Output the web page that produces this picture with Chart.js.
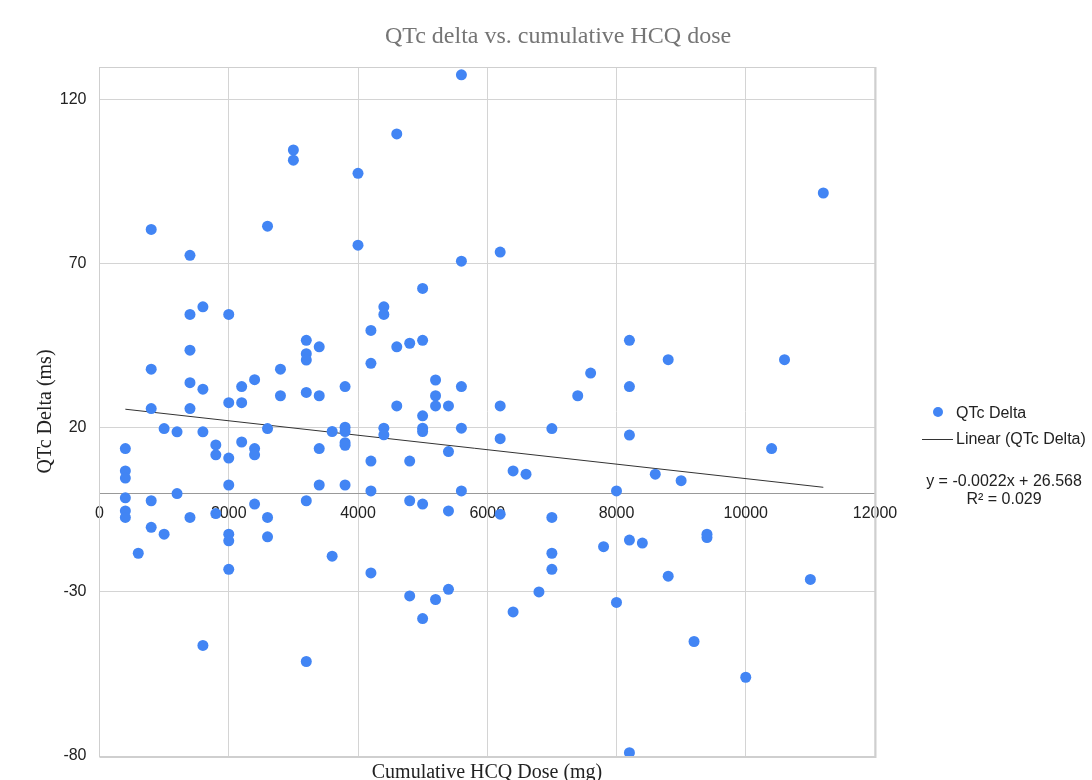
<!DOCTYPE html>
<html>
<head>
<meta charset="utf-8">
<script src="https://cdn.jsdelivr.net/npm/chart.js@4/dist/chart.umd.min.js"></script>
<style>
  body { margin: 0; background: #fff; }
  #wrap { position: relative; width: 1092px; height: 780px; overflow: hidden; }
  #myChart { position: absolute; left: 0; top: 0; }
  .txt { position: absolute; white-space: nowrap; line-height: 1; }
  .serif { font-family: "Liberation Serif", "Times New Roman", serif; }
  .sans { font-family: "Liberation Sans", Arial, sans-serif; font-size: 16px; color: #222; }
</style>
</head>
<body>
<div id="wrap">
  <canvas id="myChart" width="1092" height="780"></canvas>
  <div class="txt serif" id="title" style="font-size:24px;color:#757575;top:23px;left:558px;transform:translateX(-50%);">QTc delta vs. cumulative HCQ dose</div>
  <div class="txt serif" style="font-size:20px;color:#222;top:761px;left:487px;transform:translateX(-50%);">Cumulative HCQ Dose (mg)</div>
  <div style="position:absolute;left:933px;top:407px;width:10px;height:10px;border-radius:50%;background:#4285F4;"></div>
  <div class="txt sans" style="left:956px;top:405px;">QTc Delta</div>
  <div style="position:absolute;left:922px;top:439px;width:31px;height:1px;background:#333;"></div>
  <div class="txt sans" style="left:956px;top:431px;">Linear (QTc Delta)</div>
  <div class="txt sans" style="left:1004px;top:473px;transform:translateX(-50%);">y = -0.0022x + 26.568</div>
  <div class="txt sans" style="left:1004px;top:491px;transform:translateX(-50%);">R² = 0.029</div>
</div>
<script>
// cumulative dose (mg) and QTc delta (ms)
const doseMg = [
	400, 400, 400, 400, 400, 400,
	600,
	800, 800, 800, 800, 800,
	1000, 1000,
	1200, 1200,
	1400, 1400, 1400, 1400, 1400, 1400,
	1600, 1600, 1600, 1600,
	1800, 1800, 1800,
	2000, 2000, 2000, 2000, 2000, 2000, 2000,
	2200, 2200, 2200,
	2400, 2400, 2400, 2400,
	2600, 2600, 2600, 2600,
	2800, 2800,
	3000, 3000,
	3200, 3200, 3200, 3200, 3200, 3200,
	3400, 3400, 3400, 3400,
	3600, 3600,
	3800, 3800, 3800, 3800, 3800, 3800,
	4000, 4000,
	4200, 4200, 4200, 4200, 4200,
	4400, 4400, 4400, 4400,
	4600, 4600, 4600,
	4800, 4800, 4800, 4800,
	5000, 5000, 5000, 5000, 5000, 5000, 5000,
	5200, 5200, 5200, 5200,
	5400, 5400, 5400, 5400,
	5600, 5600, 5600, 5600, 5600,
	6200, 6200, 6200, 6200,
	6400, 6400,
	6600,
	6800,
	7000, 7000, 7000, 7000,
	7400,
	7600,
	7800,
	8000, 8000,
	8200, 8200, 8200, 8200, 8200,
	8400,
	8600,
	8800, 8800,
	9000,
	9200,
	9400, 9400,
	10000,
	10400,
	10600,
	11000,
	11200
];
const qtcDelta = [
	13.7, 6.9, 4.7, -1.3, -5.3, -7.3,
	-18.2,
	80.5, 37.9, 25.9, -2.2, -10.3,
	19.8, -12.4,
	18.8, 0,
	72.6, 54.6, 43.7, 33.8, 25.9, -7.3,
	56.9, 31.8, 18.8, -46.3,
	14.8, 11.8, -6.1,
	54.6, 27.7, 10.8, 2.6, -12.4, -14.4, -23.1,
	32.6, 27.7, 15.7,
	34.7, 13.7, 11.8, -3.2,
	81.5, 19.8, -7.3, -13.2,
	37.9, 29.8,
	104.7, 101.6,
	46.7, 42.6, 40.7, 30.8, -2.2, -51.2,
	44.7, 29.8, 13.7, 2.6,
	18.9, -19.1,
	32.6, 20.2, 18.9, 15.5, 14.7, 2.6,
	97.6, 75.7,
	49.7, 39.7, 9.9, 0.8, -24.2,
	56.9, 54.6, 19.9, 17.9,
	109.6, 44.7, 26.7,
	45.8, 9.9, -2.2, -31.2,
	62.5, 46.7, 23.7, 19.9, 18.9, -3.2, -38.1,
	34.6, 29.8, 26.7, -32.3,
	26.7, 12.8, -5.3, -29.2,
	127.6, 70.8, 32.6, 19.9, 0.8,
	73.6, 26.7, 16.7, -6.3,
	6.9, -36.1,
	5.9,
	-30.0,
	19.8, -7.3, -18.2, -23.1,
	29.8,
	36.7,
	-16.2,
	0.8, -33.2,
	46.7, 32.6, 17.8, -14.2, -79.0,
	-15.1,
	5.9,
	40.8, -25.2,
	3.9,
	-45.1,
	-12.4, -13.4,
	-56.0,
	13.7,
	40.8,
	-26.2,
	91.6
];
// trend line end points
const trendDose = [400, 11200];
const trendQtc = [25.7, 1.9];

const xTicks = [0, 2000, 4000, 6000, 8000, 10000, 12000];
const yTicks = [-80, -30, 20, 70, 120];

let points = [];
for (let i = 0; i < doseMg.length; i++) {
	points.push({x: doseMg[i], y: qtcDelta[i]});
}
let trend = trendDose.map((d, i) => ({x: d, y: trendQtc[i]}));

// plot frame
const frame = {
	id: 'frame',
	beforeDatasetsDraw(chart) {
		const a = chart.chartArea;
		const c = chart.ctx;
		c.save();
		c.strokeStyle = '#cfcfcf';
		c.lineWidth = 1;
		c.strokeRect(a.left, a.top + 0.5, a.right - a.left, a.bottom - a.top);
		c.lineWidth = 2;
		c.beginPath();
		c.moveTo(a.right + 0.5, a.top);
		c.lineTo(a.right + 0.5, a.bottom + 1);
		c.lineTo(a.left, a.bottom + 1);
		c.stroke();
		c.restore();
	}
};

const tickFont = {family: "'Liberation Sans', Arial, sans-serif", size: 16};

const ctx = document.getElementById('myChart');
const myChart = new Chart(ctx, {
	type: 'scatter',
	data: {
		datasets: [{
			label: 'QTc Delta',
			data: points,
			backgroundColor: '#4285F4',
			borderWidth: 0,
			pointRadius: 5.5,
			pointHoverRadius: 5.5
		}, {
			type: 'line',
			label: 'Linear (QTc Delta)',
			data: trend,
			borderColor: '#333333',
			borderWidth: 1,
			pointRadius: 0,
			fill: false
		}]
	},
	options: {
		responsive: false,
		animation: false,
		layout: {padding: {top: 67, right: 217, bottom: 24, left: 0}},
		plugins: {
			legend: {display: false},
			title: {display: false},
			tooltip: {enabled: false}
		},
		scales: {
			x: {
				type: 'linear',
				position: {y: 0},
				min: 0,
				max: 12000,
				afterBuildTicks: s => { s.ticks = xTicks.map(v => ({value: v})); },
				ticks: {color: '#222', font: tickFont, padding: 10, maxRotation: 0, autoSkip: false, callback: v => String(v)},
				grid: {color: '#d4d4d4', drawTicks: false},
				border: {color: '#999999', width: 1}
			},
			y: {
				type: 'linear',
				min: -80,
				max: 130,
				afterBuildTicks: s => { s.ticks = yTicks.map(v => ({value: v})); },
				afterFit: s => { s.width = 99.5; },
				ticks: {color: '#222', font: tickFont, padding: 13, callback: v => String(v)},
				grid: {color: '#d4d4d4', drawTicks: false},
				border: {color: '#bdbdbd', width: 1},
				title: {
					display: true,
					text: 'QTc Delta (ms)',
					color: '#222',
					font: {family: "'Liberation Serif', 'Times New Roman', serif", size: 20},
					padding: {top: 34, bottom: 0}
				}
			}
		}
	},
	plugins: [frame]
});
</script>
</body>
</html>
